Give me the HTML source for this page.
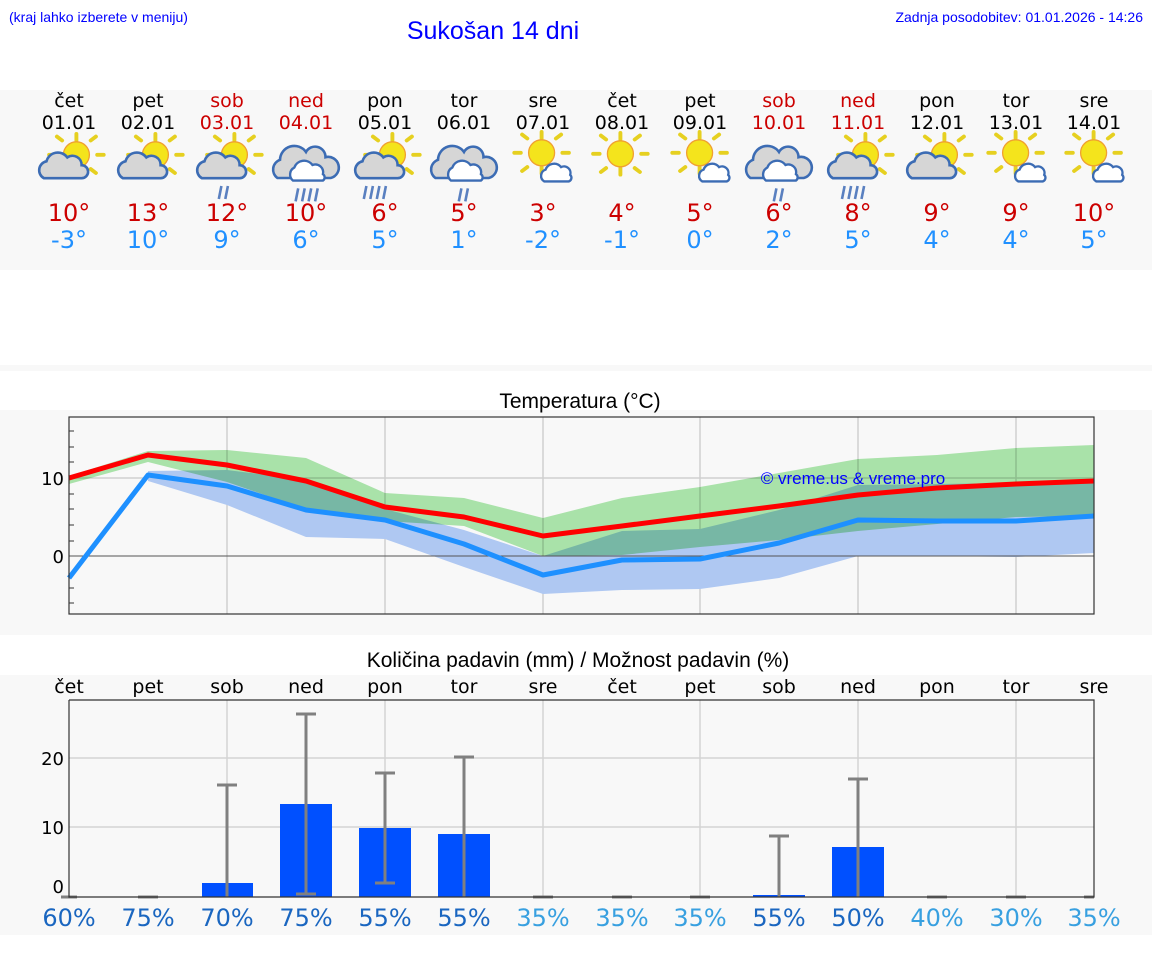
<!DOCTYPE html>
<html><head><meta charset="utf-8"><style>
html,body{margin:0;padding:0;background:#fff;}
svg{display:block;font-family:"Liberation Sans","DejaVu Sans",sans-serif;}
.d{font-family:"DejaVu Sans","Liberation Sans",sans-serif;}
</style></head><body>
<svg width="1152" height="975" viewBox="0 0 1152 975" xmlns="http://www.w3.org/2000/svg">
<defs>
<g id="sun">
 <g stroke="#e6d020" stroke-width="3" stroke-linecap="round">
  <line x1="8" y1="-20" x2="8" y2="-15"/><line x1="8" y1="7" x2="8" y2="12"/>
  <line x1="-8" y1="-4" x2="-13" y2="-4"/><line x1="24" y1="-4" x2="29" y2="-4"/>
  <line x1="-3" y1="-15" x2="-7" y2="-18"/><line x1="19" y1="-15" x2="23" y2="-18"/>
  <line x1="-3" y1="7" x2="-7" y2="10"/><line x1="19" y1="7" x2="23" y2="10"/>
 </g>
 <circle cx="8" cy="-4" r="10" fill="#f4e41c" stroke="#f0a030" stroke-width="1"/>
</g>
<g id="bcloud"><path d="M-17 14 a7 7 0 0 1 2-13 a9 9 0 0 1 16-3 a7 7 0 0 1 11 6 a5 5 0 0 1 0 10 z" fill="#d6d6d6" stroke="#3c6cb4" stroke-width="2"/></g>
<g id="scloud"><path d="M4 18 a5 5 0 0 1 1-9 a7 7 0 0 1 12-2 a5 5 0 0 1 7 6 a3 3 0 0 1 -1 5 z" fill="#fff" stroke="#3c6cb4" stroke-width="1.8"/></g>
<g id="hcloud"><path d="M-22 10 a8 8 0 0 1 2-14 a11 11 0 0 1 20-6 a8 8 0 0 1 15 4 a7 7 0 0 1 4 16 z" fill="#d6d6d6" stroke="#3c6cb4" stroke-width="2"/><path d="M-10 12 a6 6 0 0 1 1-10 a8 8 0 0 1 14-2 a6 6 0 0 1 8 7 a3 3 0 0 1 0 5 z" fill="#fff" stroke="#3c6cb4" stroke-width="1.8"/></g>
<g id="rain2" stroke="#5a80c0" stroke-width="2"><line x1="-2" y1="20" x2="-4" y2="30"/><line x1="3" y1="20" x2="1" y2="30"/></g>
<g id="rain4" stroke="#5a80c0" stroke-width="2"><line x1="-10" y1="20" x2="-12" y2="30"/><line x1="-5" y1="20" x2="-7" y2="30"/><line x1="0" y1="20" x2="-2" y2="30"/><line x1="5" y1="20" x2="3" y2="30"/></g>
<g id="sc"><use href="#sun"/><use href="#bcloud"/></g>
<g id="ss"><use href="#sun" transform="translate(-6,0)"/><use href="#scloud"/></g>
</defs>

<rect x="0" y="90" width="1152" height="180" fill="#f8f8f8"/>
<rect x="0" y="365" width="1152" height="6" fill="#f8f8f8"/>
<rect x="0" y="410" width="1152" height="225" fill="#f8f8f8"/>
<rect x="0" y="675" width="1152" height="260" fill="#f8f8f8"/>

<text x="9" y="22" font-size="14" fill="#0000ff">(kraj lahko izberete v meniju)</text>
<text x="493" y="39" font-size="25" fill="#0000ff" text-anchor="middle">Sukošan 14 dni</text>
<text x="1143" y="22" font-size="14" fill="#0000ff" text-anchor="end">Zadnja posodobitev: 01.01.2026 - 14:26</text>

<g class="d" font-size="19" text-anchor="middle">
<text x="69" y="107">čet</text><text x="148" y="107">pet</text><text x="227" y="107" fill="#cc0000">sob</text><text x="306" y="107" fill="#cc0000">ned</text><text x="385" y="107">pon</text><text x="464" y="107">tor</text><text x="543" y="107">sre</text><text x="622" y="107">čet</text><text x="700" y="107">pet</text><text x="779" y="107" fill="#cc0000">sob</text><text x="858" y="107" fill="#cc0000">ned</text><text x="937" y="107">pon</text><text x="1016" y="107">tor</text><text x="1094" y="107">sre</text>
<text x="69" y="129">01.01</text><text x="148" y="129">02.01</text><text x="227" y="129" fill="#cc0000">03.01</text><text x="306" y="129" fill="#cc0000">04.01</text><text x="385" y="129">05.01</text><text x="464" y="129">06.01</text><text x="543" y="129">07.01</text><text x="622" y="129">08.01</text><text x="700" y="129">09.01</text><text x="779" y="129" fill="#cc0000">10.01</text><text x="858" y="129" fill="#cc0000">11.01</text><text x="937" y="129">12.01</text><text x="1016" y="129">13.01</text><text x="1094" y="129">14.01</text>
</g>

<use href="#sc" transform="translate(66,160) scale(1.3)"/>
<use href="#sc" transform="translate(145,160) scale(1.3)"/>
<g transform="translate(224,160) scale(1.3)"><use href="#sc"/><use href="#rain2"/></g>
<g transform="translate(306,165) scale(1.3)"><use href="#hcloud"/><use href="#rain4" transform="translate(4,-2)"/></g>
<g transform="translate(382,160) scale(1.3)"><use href="#sc"/><use href="#rain4" transform="translate(-2,0)"/></g>
<g transform="translate(464,165) scale(1.3)"><use href="#hcloud"/><use href="#rain2" transform="translate(0,-2)"/></g>
<use href="#ss" transform="translate(539,158) scale(1.3)"/>
<use href="#sun" transform="translate(610,159) scale(1.3)"/>
<use href="#ss" transform="translate(697,158) scale(1.3)"/>
<g transform="translate(779,165) scale(1.3)"><use href="#hcloud"/><use href="#rain2" transform="translate(0,-2)"/></g>
<g transform="translate(855,160) scale(1.3)"><use href="#sc"/><use href="#rain4" transform="translate(2,0)"/></g>
<use href="#sc" transform="translate(934,160) scale(1.3)"/>
<use href="#ss" transform="translate(1013,158) scale(1.3)"/>
<use href="#ss" transform="translate(1091,158) scale(1.3)"/>

<g class="d" font-size="24" text-anchor="middle">
<g fill="#cc0000">
<text x="69" y="221">10°</text><text x="148" y="221">13°</text><text x="227" y="221">12°</text><text x="306" y="221">10°</text><text x="385" y="221">6°</text><text x="464" y="221">5°</text><text x="543" y="221">3°</text><text x="622" y="221">4°</text><text x="700" y="221">5°</text><text x="779" y="221">6°</text><text x="858" y="221">8°</text><text x="937" y="221">9°</text><text x="1016" y="221">9°</text><text x="1094" y="221">10°</text>
</g>
<g fill="#2090ff">
<text x="69" y="248">-3°</text><text x="148" y="248">10°</text><text x="227" y="248">9°</text><text x="306" y="248">6°</text><text x="385" y="248">5°</text><text x="464" y="248">1°</text><text x="543" y="248">-2°</text><text x="622" y="248">-1°</text><text x="700" y="248">0°</text><text x="779" y="248">2°</text><text x="858" y="248">5°</text><text x="937" y="248">4°</text><text x="1016" y="248">4°</text><text x="1094" y="248">5°</text>
</g>
</g>

<!-- Temperature chart -->
<text x="580" y="408" font-size="21" text-anchor="middle">Temperatura (°C)</text>
<g stroke="#d0d0d0" stroke-width="1.5">
<line x1="227" y1="417" x2="227" y2="614"/><line x1="385" y1="417" x2="385" y2="614"/><line x1="543" y1="417" x2="543" y2="614"/><line x1="700" y1="417" x2="700" y2="614"/><line x1="858" y1="417" x2="858" y2="614"/><line x1="1016" y1="417" x2="1016" y2="614"/>
<line x1="69" y1="478" x2="1094" y2="478"/>
</g>
<polygon fill="#afc8f2" points="148,471 227,470 306,480 385,509 464,530 543,556 622,531 700,529 779,510 858,485 937,484 1016,483 1094,483 1094,553 1016,557 937,556 858,556 779,578 700,589 622,590 543,594 464,567 385,539 306,537 227,505 148,481"/>
<polygon fill="#aee9ae" style="mix-blend-mode:multiply" points="69,476 148,451 227,450 306,458 385,493 464,498 543,518 622,498 700,487 779,473 858,459 937,455 1016,448 1094,445 1094,516 1016,517 937,524 858,531 779,540 700,547 622,555 543,556 464,526 385,521 306,509 227,482 148,462 69,484"/>
<line x1="69" y1="556" x2="1094" y2="556" stroke="#555" stroke-width="1"/>
<polyline fill="none" stroke="#ff0000" stroke-width="5" stroke-linejoin="round" points="69,478 148,455 227,465 306,481 385,507 464,517 543,536 622,526 700,516 779,506 858,495 937,488 1016,484 1094,481"/>
<polyline fill="none" stroke="#1e90ff" stroke-width="5" stroke-linejoin="round" points="69,578 148,475 227,486 306,510 385,520 464,544 543,575 622,560 700,559 779,543 858,520 937,521 1016,521 1094,516"/>
<text x="853" y="484" font-size="17" fill="#0000ff" text-anchor="middle">© vreme.us &amp; vreme.pro</text>
<rect x="69" y="417" width="1025" height="197" fill="none" stroke="#333" stroke-width="1.2"/>
<g stroke="#333" stroke-width="1">
<line x1="69" y1="431" x2="74" y2="431"/><line x1="69" y1="447" x2="74" y2="447"/><line x1="69" y1="462" x2="74" y2="462"/><line x1="69" y1="494" x2="74" y2="494"/><line x1="69" y1="509" x2="74" y2="509"/><line x1="69" y1="525" x2="74" y2="525"/><line x1="69" y1="541" x2="74" y2="541"/><line x1="69" y1="588" x2="74" y2="588"/><line x1="69" y1="603" x2="74" y2="603"/>
</g>
<g class="d" font-size="18" text-anchor="end"><text x="64" y="485">10</text><text x="64" y="563">0</text></g>

<!-- Precip chart -->
<text x="578" y="667" font-size="21" text-anchor="middle">Količina padavin (mm) / Možnost padavin (%)</text>
<g class="d" font-size="19" text-anchor="middle">
<text x="69" y="693">čet</text><text x="148" y="693">pet</text><text x="227" y="693">sob</text><text x="306" y="693">ned</text><text x="385" y="693">pon</text><text x="464" y="693">tor</text><text x="543" y="693">sre</text><text x="622" y="693">čet</text><text x="700" y="693">pet</text><text x="779" y="693">sob</text><text x="858" y="693">ned</text><text x="937" y="693">pon</text><text x="1016" y="693">tor</text><text x="1094" y="693">sre</text>
</g>
<g stroke="#d4d4d4" stroke-width="1.5">
<line x1="227" y1="700" x2="227" y2="897"/><line x1="385" y1="700" x2="385" y2="897"/><line x1="543" y1="700" x2="543" y2="897"/><line x1="700" y1="700" x2="700" y2="897"/><line x1="858" y1="700" x2="858" y2="897"/><line x1="1016" y1="700" x2="1016" y2="897"/>
<line x1="69" y1="758" x2="1094" y2="758"/><line x1="69" y1="827" x2="1094" y2="827"/>
</g>
<g fill="#0050ff">
<rect x="202" y="883" width="51" height="14"/><rect x="280" y="804" width="52" height="93"/><rect x="359" y="828" width="52" height="69"/><rect x="438" y="834" width="52" height="63"/><rect x="753" y="895" width="52" height="2"/><rect x="832" y="847" width="52" height="50"/>
</g>
<g stroke="#808080" stroke-width="3">
<line x1="227" y1="785" x2="227" y2="897"/><line x1="217" y1="785" x2="237" y2="785"/>
<line x1="306" y1="714" x2="306" y2="894"/><line x1="296" y1="714" x2="316" y2="714"/><line x1="296" y1="894" x2="316" y2="894"/>
<line x1="385" y1="773" x2="385" y2="883"/><line x1="375" y1="773" x2="395" y2="773"/><line x1="375" y1="883" x2="395" y2="883"/>
<line x1="464" y1="757" x2="464" y2="897"/><line x1="454" y1="757" x2="474" y2="757"/>
<line x1="779" y1="836" x2="779" y2="897"/><line x1="769" y1="836" x2="789" y2="836"/>
<line x1="858" y1="779" x2="858" y2="897"/><line x1="848" y1="779" x2="868" y2="779"/>
<line x1="61" y1="897" x2="77" y2="897"/><line x1="138" y1="897" x2="158" y2="897"/><line x1="533" y1="897" x2="553" y2="897"/><line x1="612" y1="897" x2="632" y2="897"/><line x1="690" y1="897" x2="710" y2="897"/><line x1="927" y1="897" x2="947" y2="897"/><line x1="1006" y1="897" x2="1026" y2="897"/><line x1="1084" y1="897" x2="1094" y2="897"/>
</g>
<polyline fill="none" stroke="#333" stroke-width="1.2" points="69,700 69,897 1094,897 1094,700 69,700"/>
<g class="d" font-size="18" text-anchor="end"><text x="64" y="765">20</text><text x="64" y="834">10</text><text x="64" y="893">0</text></g>
<g class="d" font-size="24" text-anchor="middle">
<g fill="#1a66c0"><text x="69" y="926">60%</text><text x="148" y="926">75%</text><text x="227" y="926">70%</text><text x="306" y="926">75%</text><text x="385" y="926">55%</text><text x="464" y="926">55%</text><text x="779" y="926">55%</text><text x="858" y="926">50%</text></g>
<g fill="#38a0e0"><text x="543" y="926">35%</text><text x="622" y="926">35%</text><text x="700" y="926">35%</text><text x="937" y="926">40%</text><text x="1016" y="926">30%</text><text x="1094" y="926">35%</text></g>
</g>
</svg>
</body></html>
